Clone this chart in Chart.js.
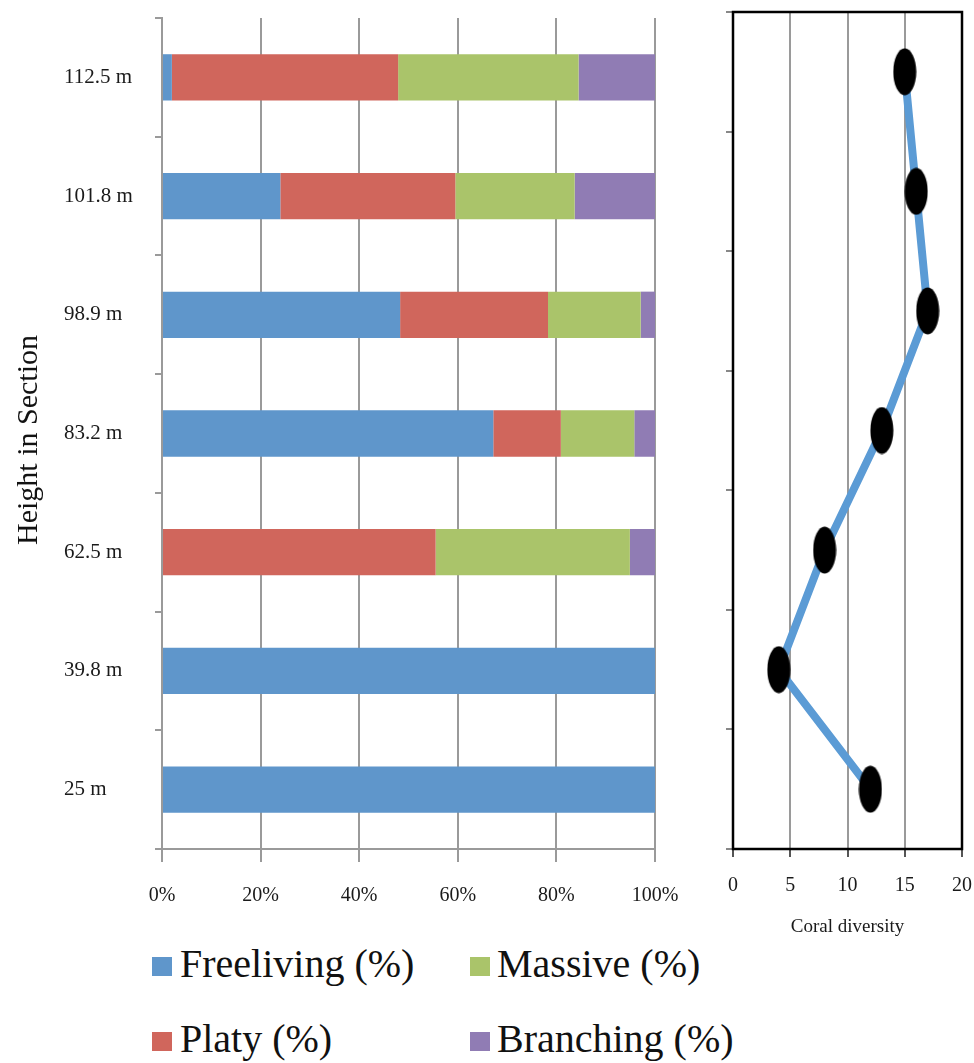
<!DOCTYPE html>
<html>
<head>
<meta charset="utf-8">
<script src="https://cdn.jsdelivr.net/npm/chart.js@4.4.1/dist/chart.umd.min.js"></script>
<style>
  body { margin: 0; background: #fff; width: 974px; height: 1063px; position: relative; overflow: hidden; }
  #bars { position: absolute; left: 0; top: 0; }
  #diversity { position: absolute; left: 700px; top: 0; }
  .ytitle {
    position: absolute; left: 27px; top: 440px;
    transform: translate(-50%, -50%) rotate(-90deg);
    font: 30px 'Liberation Serif', serif; color: #111; white-space: nowrap;
  }
  .leg { position: absolute; font: 40px/40px 'Liberation Serif', serif; color: #111; white-space: nowrap; }
  .sw { position: absolute; width: 20px; height: 19px; }
</style>
</head>
<body>
<canvas id="bars" width="700" height="930"></canvas>
<canvas id="diversity" width="274" height="940"></canvas>
<div class="ytitle">Height in Section</div>

<div class="sw" style="left:152px;top:957px;background:#5f96cb"></div>
<div class="leg" style="left:180px;top:944px">Freeliving (%)</div>
<div class="sw" style="left:470px;top:957px;background:#aac46a"></div>
<div class="leg" style="left:497px;top:944px">Massive (%)</div>
<div class="sw" style="left:152px;top:1032px;background:#d0665c"></div>
<div class="leg" style="left:180px;top:1019px">Platy (%)</div>
<div class="sw" style="left:470px;top:1032px;background:#907cb4"></div>
<div class="leg" style="left:497px;top:1019px">Branching (%)</div>

<script>
// heights in section, top to bottom
const heights = ['112.5 m', '101.8 m', '98.9 m', '83.2 m', '62.5 m', '39.8 m', '25 m'];

// coral growth forms, % of each sample
const freeliving = [2, 24, 48.3, 67.2, 0, 100, 100];
const platy      = [45.9, 35.5, 30, 13.7, 55.5, 0, 0];
const massive    = [36.6, 24.2, 18.8, 14.9, 39.4, 0, 0];
const branching  = [15.5, 16.3, 2.9, 4.2, 5.1, 0, 0];

// coral diversity at the same heights
const diversity = [15, 16, 17, 13, 8, 4, 12];

const pctTicks = [0, 20, 40, 60, 80, 100];
const divTicks = [0, 5, 10, 15, 20];

const serif = "'Liberation Serif', 'Times New Roman', serif";
const gridGray = '#9a9a9a';

// drop the label overhang so layout padding alone sets the plot edges
function noOverhang(s) {
  s.paddingLeft = 0;
  s.paddingRight = 0;
  s.paddingTop = 0;
  s.paddingBottom = 0;
}

new Chart(document.getElementById('bars'), {
  type: 'bar',
  data: {
    labels: heights,
    datasets: [
      { label: 'Freeliving (%)', data: freeliving, backgroundColor: '#5f96cb' },
      { label: 'Platy (%)', data: platy, backgroundColor: '#d0665c' },
      { label: 'Massive (%)', data: massive, backgroundColor: '#aac46a' },
      { label: 'Branching (%)', data: branching, backgroundColor: '#907cb4' }
    ]
  },
  options: {
    indexAxis: 'y',
    responsive: false,
    animation: false,
    layout: { autoPadding: false, padding: { left: 64, top: 18, right: 45, bottom: 0 } },
    datasets: { bar: { barPercentage: 0.39, categoryPercentage: 1 } },
    plugins: { legend: { display: false }, tooltip: { enabled: false } },
    scales: {
      x: {
        stacked: true,
        min: 0,
        max: 100,
        afterBuildTicks: s => { s.ticks = pctTicks.map(v => ({ value: v })); },
        ticks: {
          callback: v => v + '%',
          font: { family: serif, size: 20 },
          color: '#1a1a1a',
          padding: 22,
          maxRotation: 0
        },
        grid: { color: gridGray, lineWidth: 2, tickLength: 13 },
        border: { color: gridGray, width: 2 },
        afterFit: s => { s.height = 81; noOverhang(s); }
      },
      y: {
        stacked: true,
        ticks: {
          crossAlign: 'far',
          font: { family: serif, size: 21 },
          color: '#1a1a1a'
        },
        grid: { drawOnChartArea: false, color: gridGray, lineWidth: 2, tickLength: 7 },
        border: { color: gridGray, width: 2 },
        afterFit: s => { s.width = 98; noOverhang(s); }
      }
    }
  }
});

// tall black ellipse used as marker
const dot = document.createElement('canvas');
dot.width = 24;
dot.height = 48;
const dctx = dot.getContext('2d');
dctx.fillStyle = '#000';
dctx.beginPath();
dctx.ellipse(12, 24, 11.5, 23.5, 0, 0, Math.PI * 2);
dctx.fill();

const frame = {
  id: 'frame',
  beforeDatasetsDraw(chart) {
    const { ctx, chartArea: a } = chart;
    ctx.save();
    ctx.strokeStyle = '#000';
    ctx.lineWidth = 2.5;
    ctx.strokeRect(a.left, a.top, a.right - a.left, a.bottom - a.top);
    ctx.restore();
  }
};

new Chart(document.getElementById('diversity'), {
  type: 'line',
  data: {
    labels: heights,
    datasets: [{
      label: 'Coral diversity',
      data: diversity,
      borderColor: '#5b9bd5',
      borderWidth: 8,
      tension: 0,
      pointStyle: dot,
      pointRadius: 12
    }]
  },
  options: {
    indexAxis: 'y',
    responsive: false,
    animation: false,
    layout: { autoPadding: false, padding: { left: 0, top: 12, right: 12, bottom: 0 } },
    plugins: { legend: { display: false }, tooltip: { enabled: false } },
    scales: {
      x: {
        type: 'linear',
        min: 0,
        max: 20,
        afterBuildTicks: s => { s.ticks = divTicks.map(v => ({ value: v })); },
        ticks: {
          font: { family: serif, size: 20 },
          color: '#1a1a1a',
          padding: 17,
          maxRotation: 0
        },
        grid: {
          color: c => (c.tick && (c.tick.value === 0 || c.tick.value === 20)) ? 'rgba(0,0,0,0)' : gridGray,
          tickColor: '#555',
          lineWidth: 2,
          tickLength: 8
        },
        border: { display: false },
        title: {
          display: true,
          text: 'Coral diversity',
          font: { family: serif, size: 19 },
          color: '#1a1a1a',
          padding: { top: 0, bottom: 2 }
        },
        afterFit: s => { s.height = 91; noOverhang(s); }
      },
      y: {
        offset: true,
        ticks: { display: false },
        grid: { drawOnChartArea: false, tickColor: '#888', lineWidth: 2, tickLength: 7, offset: true },
        border: { display: false },
        afterFit: s => { s.width = 33; noOverhang(s); }
      }
    }
  },
  plugins: [frame]
});
</script>
</body>
</html>
